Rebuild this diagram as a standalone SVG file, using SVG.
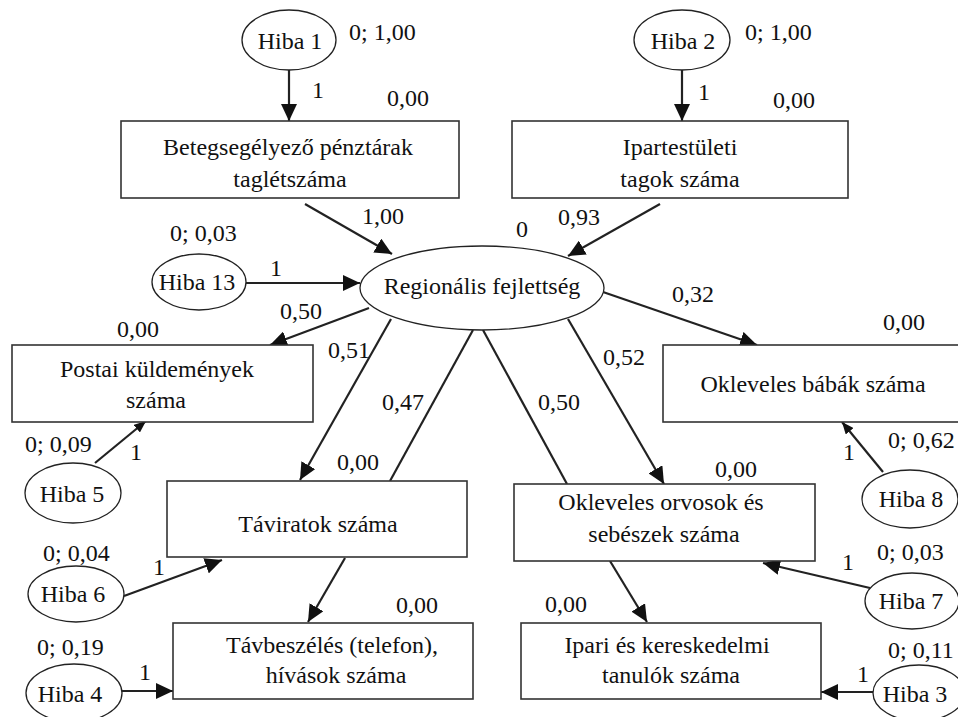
<svg xmlns="http://www.w3.org/2000/svg" width="958" height="717" viewBox="0 0 958 717">
<defs>
<style>
.box{fill:#fff;stroke:#333;stroke-width:1.6}
.ell{fill:#fff;stroke:#222;stroke-width:1.3}
.ln{stroke:#222;stroke-width:2.2;fill:none}
.lg{marker-end:url(#big)}
.sm{marker-end:url(#small)}
</style>
<marker id="big" markerUnits="userSpaceOnUse" viewBox="0 0 17 16" refX="17" refY="8" markerWidth="17" markerHeight="16" orient="auto"><path d="M0,0 L17,8 L0,16 z" fill="#111"/></marker>
<marker id="small" markerUnits="userSpaceOnUse" viewBox="0 0 12 10" refX="12" refY="5" markerWidth="12" markerHeight="10" orient="auto"><path d="M0,0 L12,5 L0,10 z" fill="#111"/></marker>
</defs>
<rect width="958" height="717" fill="#fff"/>

<g id="connectors">
<line class="ln lg" x1="289" y1="70" x2="289" y2="121"/>
<line class="ln lg" x1="682" y1="70" x2="682" y2="121"/>
<line class="ln lg" x1="305" y1="204" x2="392" y2="254"/>
<line class="ln lg" x1="660" y1="204" x2="568" y2="256"/>
<line class="ln lg" x1="246" y1="283" x2="360" y2="283"/>
<line class="ln lg" x1="369" y1="308" x2="270" y2="345"/>
<line class="ln lg" x1="391" y1="319" x2="300" y2="480"/>
<line class="ln" x1="473" y1="330" x2="390" y2="481"/>
<line class="ln" x1="483" y1="330" x2="567" y2="484"/>
<line class="ln lg" x1="568" y1="319" x2="664" y2="484"/>
<line class="ln lg" x1="603" y1="292" x2="757" y2="345"/>
<line class="ln sm" x1="95" y1="463" x2="146" y2="421"/>
<line class="ln lg" x1="124" y1="596" x2="222" y2="560"/>
<line class="ln lg" x1="345" y1="558" x2="308" y2="622"/>
<line class="ln lg" x1="122" y1="691" x2="173" y2="691"/>
<line class="ln lg" x1="610" y1="561" x2="647" y2="622"/>
<line class="ln lg" x1="870" y1="588" x2="763" y2="563"/>
<line class="ln sm" x1="883" y1="472" x2="842" y2="422"/>
<line class="ln lg" x1="874" y1="692" x2="821" y2="692"/>
</g>

<g font-family="Liberation Serif, DejaVu Serif, serif" font-size="24" fill="#111">
<g id="edge-labels">
<text x="312" y="98">1</text>
<text x="698" y="100">1</text>
<text x="362" y="224">1,00</text>
<text x="558" y="225">0,93</text>
<text x="270" y="276">1</text>
<text x="280" y="319">0,50</text>
<text x="328" y="358">0,51</text>
<text x="382" y="410">0,47</text>
<text x="538" y="410">0,50</text>
<text x="603" y="365">0,52</text>
<text x="672" y="302">0,32</text>
<text x="130" y="460">1</text>
<text x="153" y="575">1</text>
<text x="139" y="680">1</text>
<text x="843" y="460">1</text>
<text x="842" y="570">1</text>
<text x="857" y="682">1</text>
</g>

<g id="hiba1">
<ellipse class="ell" cx="289" cy="40" rx="47" ry="30"/>
<text text-anchor="middle" x="290" y="49">Hiba 1</text>
<text x="349" y="40">0; 1,00</text>
</g>
<g id="hiba2">
<ellipse class="ell" cx="682" cy="40" rx="48" ry="30"/>
<text text-anchor="middle" x="683" y="49">Hiba 2</text>
<text x="745" y="40">0; 1,00</text>
</g>
<g id="betegseg">
<rect class="box" x="121" y="121" width="338" height="77"/>
<text text-anchor="middle" x="288" y="155">Betegsegélyező pénztárak</text>
<text text-anchor="middle" x="290" y="187">taglétszáma</text>
<text x="387" y="106">0,00</text>
</g>
<g id="ipartest">
<rect class="box" x="512" y="121" width="336" height="77"/>
<text text-anchor="middle" x="680" y="155">Ipartestületi</text>
<text text-anchor="middle" x="680" y="187">tagok száma</text>
<text x="773" y="108">0,00</text>
</g>
<g id="hiba13">
<ellipse class="ell" cx="199" cy="282" rx="47" ry="28"/>
<text text-anchor="middle" x="197" y="290">Hiba 13</text>
<text x="170" y="241">0; 0,03</text>
</g>
<g id="regionalis">
<ellipse class="ell" cx="482" cy="288" rx="122" ry="42"/>
<text text-anchor="middle" x="482" y="294">Regionális fejlettség</text>
<text x="516" y="237">0</text>
</g>
<g id="postai">
<rect class="box" x="12" y="345" width="301" height="77"/>
<text text-anchor="middle" x="157" y="377">Postai küldemények</text>
<text text-anchor="middle" x="156" y="408">száma</text>
<text x="117" y="337">0,00</text>
</g>
<g id="babak">
<rect class="box" x="663" y="345" width="310" height="77"/>
<text text-anchor="middle" x="813" y="392">Okleveles bábák száma</text>
<text x="883" y="330">0,00</text>
</g>
<g id="hiba5">
<ellipse class="ell" cx="73" cy="493" rx="48" ry="30"/>
<text text-anchor="middle" x="72" y="502">Hiba 5</text>
<text x="25" y="452">0; 0,09</text>
</g>
<g id="hiba8">
<ellipse class="ell" cx="910" cy="499" rx="48" ry="29"/>
<text text-anchor="middle" x="911" y="507">Hiba 8</text>
<text x="888" y="448">0; 0,62</text>
</g>
<g id="taviratok">
<rect class="box" x="167" y="481" width="300" height="76"/>
<text text-anchor="middle" x="318" y="532">Táviratok száma</text>
<text x="337" y="470">0,00</text>
</g>
<g id="orvosok">
<rect class="box" x="514" y="484" width="301" height="77"/>
<text text-anchor="middle" x="661" y="510">Okleveles orvosok és</text>
<text text-anchor="middle" x="664" y="542">sebészek száma</text>
<text x="715" y="477">0,00</text>
</g>
<g id="hiba6">
<ellipse class="ell" cx="76" cy="594" rx="48" ry="28"/>
<text text-anchor="middle" x="73" y="602">Hiba 6</text>
<text x="43" y="561">0; 0,04</text>
</g>
<g id="hiba7">
<ellipse class="ell" cx="912" cy="601" rx="47" ry="28"/>
<text text-anchor="middle" x="911" y="609">Hiba 7</text>
<text x="877" y="560">0; 0,03</text>
</g>
<g id="tavbeszeles">
<rect class="box" x="173" y="623" width="300" height="76"/>
<text text-anchor="middle" x="332" y="653">Távbeszélés (telefon),</text>
<text text-anchor="middle" x="336" y="683">hívások száma</text>
<text x="396" y="613">0,00</text>
</g>
<g id="ipari">
<rect class="box" x="521" y="623" width="300" height="76"/>
<text text-anchor="middle" x="667" y="653">Ipari és kereskedelmi</text>
<text text-anchor="middle" x="671" y="683">tanulók száma</text>
<text x="545" y="612">0,00</text>
</g>
<g id="hiba4">
<ellipse class="ell" cx="74" cy="693" rx="48" ry="29"/>
<text text-anchor="middle" x="70" y="702">Hiba 4</text>
<text x="37" y="655">0; 0,19</text>
</g>
<g id="hiba3">
<ellipse class="ell" cx="919" cy="693" rx="46" ry="28"/>
<text text-anchor="middle" x="915" y="702">Hiba 3</text>
<text x="888" y="658">0; 0,11</text>
</g>
</g>
</svg>
